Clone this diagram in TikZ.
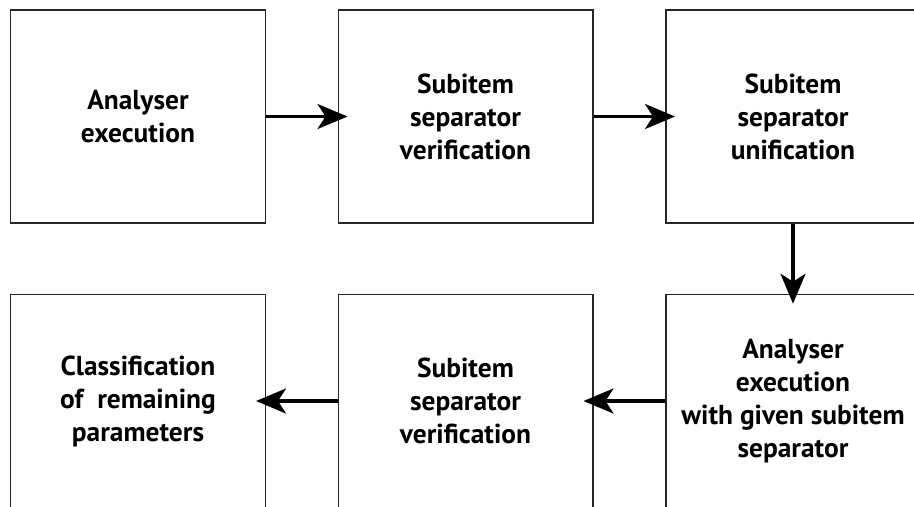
\documentclass[tikz,border=0pt]{standalone}
\usepackage{fontspec}
\setmainfont{PT Sans}
\usetikzlibrary{positioning,arrows.meta}
\begin{document}
\begin{tikzpicture}[node distance=1.43cm,>={Stealth[length=0.6cm,width=0.5cm,inset=0.16cm]}]
\tikzset{
  stage/.style={draw=black!85,line width=0.03cm,shape=rectangle,minimum width=5.09cm,minimum height=4.26cm,align=center,font=\fontsize{15.6}{18.8}\selectfont\bfseries},
  flow/.style={->,line width=0.065cm,shorten >=-0.2cm}
}
\useasboundingbox (0,0) rectangle (18.28,-10.12);
\clip (0,0) rectangle (18.28,-10.12);
\node[stage] (analyser) at (2.76,-2.33) {Analyser\\execution};
\node[stage,right=of analyser] (verify) {Subitem\\separator\\verification};
\node[stage,right=of verify] (unify) {Subitem\\separator\\unification};
\node[stage,below=1.4cm of unify] (rerun) {Analyser\\execution\\with given subitem\\separator};
\node[stage,left=of rerun] (verify2) {Subitem\\separator\\verification};
\node[stage,left=of verify2] (classify) {Classification\\of~ remaining\\parameters};
\draw[flow] (analyser) -- (verify);
\draw[flow] (verify) -- (unify);
\draw[flow] (unify) -- (rerun);
\draw[flow] (rerun) -- (verify2);
\draw[flow] (verify2) -- (classify);
\end{tikzpicture}
\end{document}
